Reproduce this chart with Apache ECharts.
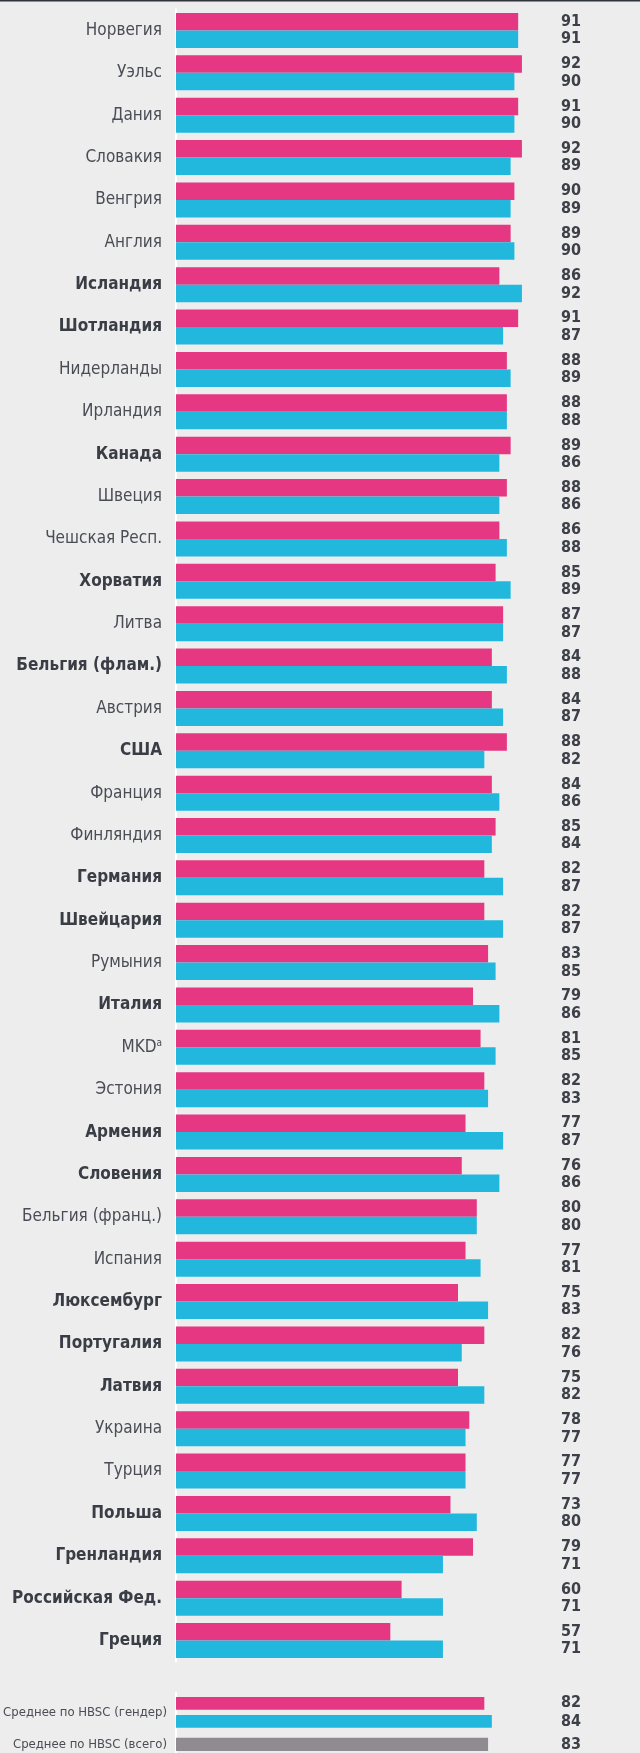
<!DOCTYPE html>
<html>
<head>
<meta charset="utf-8">
<script src="https://cdn.jsdelivr.net/npm/echarts@6/dist/echarts.min.js"></script>
<style>
  html, body { margin: 0; padding: 0; background: #ecedec; }
  #chart { width: 640px; height: 1753px; }
</style>
</head>
<body>
<div id="chart"></div>
<script>
  // страны сверху вниз
  const countries = [
    'Норвегия', 'Уэльс', 'Дания', 'Словакия', 'Венгрия', 'Англия', 'Исландия', 'Шотландия',
    'Нидерланды', 'Ирландия', 'Канада', 'Швеция', 'Чешская Респ.', 'Хорватия', 'Литва',
    'Бельгия (флам.)', 'Австрия', 'США', 'Франция', 'Финляндия', 'Германия', 'Швейцария',
    'Румыния', 'Италия', 'MKD', 'Эстония', 'Армения', 'Словения', 'Бельгия (франц.)', 'Испания',
    'Люксембург', 'Португалия', 'Латвия', 'Украина', 'Турция', 'Польша', 'Гренландия',
    'Российская Фед.', 'Греция'
  ];
  // розовые столбцы
  const girls = [91, 92, 91, 92, 90, 89, 86, 91, 88, 88, 89, 88, 86, 85, 87, 84, 84, 88, 84, 85,
    82, 82, 83, 79, 81, 82, 77, 76, 80, 77, 75, 82, 75, 78, 77, 73, 79, 60, 57];
  // голубые столбцы
  const boys = [91, 90, 90, 89, 89, 90, 92, 87, 89, 88, 86, 86, 88, 89, 87, 88, 87, 82, 86, 84,
    87, 87, 85, 86, 85, 83, 87, 86, 80, 81, 83, 76, 82, 77, 77, 80, 71, 71, 71];
  // жирным выделены
  const boldCountries = ['Исландия', 'Шотландия', 'Канада', 'Хорватия', 'Бельгия (флам.)', 'США',
    'Германия', 'Швейцария', 'Италия', 'Армения', 'Словения', 'Люксембург', 'Португалия',
    'Латвия', 'Польша', 'Гренландия', 'Российская Фед.', 'Греция'];
  // средние
  const avgGenderLabel = ['Среднее по HBSC (гендер)'];
  const avgGirls = [82];
  const avgBoys = [84];
  const avgAllLabel = ['Среднее по HBSC (всего)'];
  const avgAll = [83];

  const FONT = '"Liberation Sans Narrow", "DejaVu Sans Condensed", "Noto Sans", sans-serif';
  const PINK = '#e63782';
  const CYAN = '#22b8de';
  const GREY = '#8f8b91';
  const TXT = '#4a4d55';

  let myChart = echarts.init(document.getElementById('chart'));

  function valueLabel() {
    return {
      show: true,
      position: [405, '50%'],
      align: 'right',
      verticalAlign: 'middle',
      fontFamily: FONT,
      fontSize: 16,
      fontWeight: 'bold',
      color: '#3d4049'
    };
  }

  function hiddenX(idx) {
    return {
      type: 'value', gridIndex: idx, min: 0, max: 100,
      show: false, splitLine: {show: false}
    };
  }

  function catY(idx, data, margin, fontSize) {
    return {
      type: 'category', gridIndex: idx, inverse: true, data: data,
      axisLine: {show: true, lineStyle: {color: '#ffffff', width: 2}},
      axisTick: {show: false},
      axisLabel: {
        margin: margin,
        fontFamily: FONT,
        fontSize: fontSize,
        color: TXT,
        formatter: function (v) {
          if (v === 'MKD') return '{r|MKD}{sup|a}';
          return boldCountries.indexOf(v) >= 0 ? '{b|' + v + '}' : '{r|' + v + '}';
        },
        rich: {
          r: {fontFamily: FONT, fontSize: fontSize, color: TXT},
          b: {fontFamily: FONT, fontSize: fontSize, fontWeight: 'bold', color: '#3a3d45'},
          sup: {fontFamily: FONT, fontSize: 10, color: TXT, verticalAlign: 'top', padding: [0, 0, 8, 0]}
        }
      }
    };
  }

  function gridAt(top, height) {
    return {left: 176, width: 376, top: top, height: height, outerBoundsMode: 'none', containLabel: false};
  }

  let option = {
    animation: false,
    backgroundColor: '#ecedec',
    graphic: [{
      type: 'rect', left: 0, top: 0,
      shape: {width: 640, height: 1.5},
      style: {fill: '#2f333b'}
    }],
    grid: [
      gridAt(9.3, 1652.4),
      gridAt(1693, 38.7),
      gridAt(1731.7, 25.4)
    ],
    xAxis: [hiddenX(0), hiddenX(1), hiddenX(2)],
    yAxis: [
      catY(0, countries, 14, 17),
      catY(1, avgGenderLabel, 9, 13),
      catY(2, avgAllLabel, 9, 13)
    ],
    series: [
      {
        name: 'Девочки', type: 'bar', xAxisIndex: 0, yAxisIndex: 0,
        data: girls, barWidth: 17.5, barGap: '0%',
        itemStyle: {color: PINK}, label: valueLabel()
      },
      {
        name: 'Мальчики', type: 'bar', xAxisIndex: 0, yAxisIndex: 0,
        data: boys, barWidth: 17.5, barGap: '0%',
        itemStyle: {color: CYAN}, label: valueLabel()
      },
      {
        name: 'Девочки (среднее)', type: 'bar', xAxisIndex: 1, yAxisIndex: 1,
        data: avgGirls, barWidth: 12.7, barGap: '42%',
        itemStyle: {color: PINK}, label: valueLabel()
      },
      {
        name: 'Мальчики (среднее)', type: 'bar', xAxisIndex: 1, yAxisIndex: 1,
        data: avgBoys, barWidth: 12.7, barGap: '42%',
        itemStyle: {color: CYAN}, label: valueLabel()
      },
      {
        name: 'Всего (среднее)', type: 'bar', xAxisIndex: 2, yAxisIndex: 2,
        data: avgAll, barWidth: 13.3,
        itemStyle: {color: GREY}, label: valueLabel()
      }
    ]
  };
  myChart.setOption(option);
</script>
</body>
</html>
